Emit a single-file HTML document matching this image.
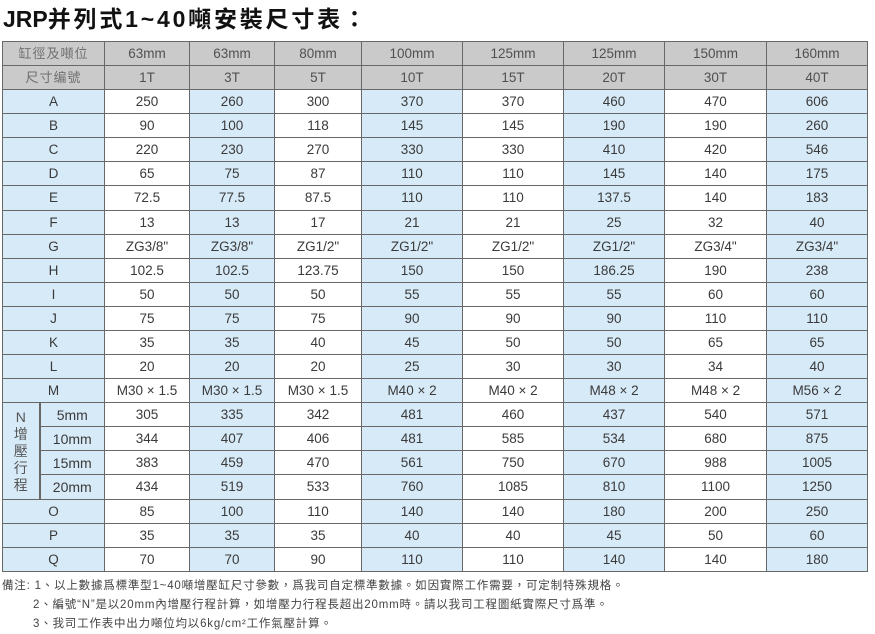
<!DOCTYPE html>
<html>
<head>
<meta charset="utf-8">
<style>
  html,body{margin:0;padding:0;background:#fff;}
  body{width:875px;height:633px;position:relative;overflow:hidden;
       font-family:"Liberation Sans","Noto Sans CJK TC","Noto Sans CJK SC",sans-serif;}
  .title{position:absolute;left:3px;top:5px;font-size:23px;font-weight:bold;color:#111;
         white-space:nowrap;line-height:28px;letter-spacing:2.8px;}
  .title .l{letter-spacing:0;}
  table{position:absolute;left:2px;top:41px;border-collapse:collapse;table-layout:fixed;width:865px;}
  td{border:1px solid #686868;padding:0;text-align:center;vertical-align:middle;
     font-size:13.5px;color:#3a3a3a;line-height:22px;height:23px;white-space:nowrap;overflow:hidden;}
  tr{height:24px;}
  tr.t td{height:24px;}
  tr.t{height:25px;}
  tr.h td{background:#cacaca;color:#505050;}
  tr.h td.f{color:#707070;letter-spacing:1px;font-size:13px;}
  td.f{background:#d7eaf8;}
  td.s{background:#d7eaf8;font-size:14px;}
  td.n{background:#d7eaf8;font-size:14px;line-height:17px;border-right:2px solid #686868;color:#555;}
  .notes{position:absolute;left:2px;top:577px;font-size:11.5px;color:#444;line-height:19px;
         letter-spacing:0.8px;white-space:nowrap;}
  .notes div{position:relative;}
  .notes .in{padding-left:31px;}
</style>
</head>
<body>
<div class="title"><span class="l">JRP</span>并列式1~40噸安裝尺寸表：</div>

<table>
<colgroup>
<col style="width:37px">
<col style="width:65px">
<col style="width:85px">
<col style="width:85px;background:#d7eaf8">
<col style="width:87px">
<col style="width:101px;background:#d7eaf8">
<col style="width:101px">
<col style="width:101px;background:#d7eaf8">
<col style="width:102px">
<col style="width:101px;background:#d7eaf8">
</colgroup>
<tr class="h"><td class="f" colspan="2">缸徑及噸位</td><td>63mm</td><td>63mm</td><td>80mm</td><td>100mm</td><td>125mm</td><td>125mm</td><td>150mm</td><td>160mm</td></tr>
<tr class="h"><td class="f" colspan="2">尺寸编號</td><td>1T</td><td>3T</td><td>5T</td><td>10T</td><td>15T</td><td>20T</td><td>30T</td><td>40T</td></tr>
<tr><td class="f" colspan="2">A</td><td>250</td><td>260</td><td>300</td><td>370</td><td>370</td><td>460</td><td>470</td><td>606</td></tr>
<tr><td class="f" colspan="2">B</td><td>90</td><td>100</td><td>118</td><td>145</td><td>145</td><td>190</td><td>190</td><td>260</td></tr>
<tr><td class="f" colspan="2">C</td><td>220</td><td>230</td><td>270</td><td>330</td><td>330</td><td>410</td><td>420</td><td>546</td></tr>
<tr><td class="f" colspan="2">D</td><td>65</td><td>75</td><td>87</td><td>110</td><td>110</td><td>145</td><td>140</td><td>175</td></tr>
<tr class="t"><td class="f" colspan="2">E</td><td>72.5</td><td>77.5</td><td>87.5</td><td>110</td><td>110</td><td>137.5</td><td>140</td><td>183</td></tr>
<tr><td class="f" colspan="2">F</td><td>13</td><td>13</td><td>17</td><td>21</td><td>21</td><td>25</td><td>32</td><td>40</td></tr>
<tr><td class="f" colspan="2">G</td><td>ZG3/8"</td><td>ZG3/8"</td><td>ZG1/2"</td><td>ZG1/2"</td><td>ZG1/2"</td><td>ZG1/2"</td><td>ZG3/4"</td><td>ZG3/4"</td></tr>
<tr><td class="f" colspan="2">H</td><td>102.5</td><td>102.5</td><td>123.75</td><td>150</td><td>150</td><td>186.25</td><td>190</td><td>238</td></tr>
<tr><td class="f" colspan="2">I</td><td>50</td><td>50</td><td>50</td><td>55</td><td>55</td><td>55</td><td>60</td><td>60</td></tr>
<tr><td class="f" colspan="2">J</td><td>75</td><td>75</td><td>75</td><td>90</td><td>90</td><td>90</td><td>110</td><td>110</td></tr>
<tr><td class="f" colspan="2">K</td><td>35</td><td>35</td><td>40</td><td>45</td><td>50</td><td>50</td><td>65</td><td>65</td></tr>
<tr><td class="f" colspan="2">L</td><td>20</td><td>20</td><td>20</td><td>25</td><td>30</td><td>30</td><td>34</td><td>40</td></tr>
<tr><td class="f" colspan="2">M</td><td>M30 × 1.5</td><td>M30 × 1.5</td><td>M30 × 1.5</td><td>M40 × 2</td><td>M40 × 2</td><td>M48 × 2</td><td>M48 × 2</td><td>M56 × 2</td></tr>
<tr><td class="n" rowspan="4">N<br>增<br>壓<br>行<br>程</td><td class="s">5mm</td><td>305</td><td>335</td><td>342</td><td>481</td><td>460</td><td>437</td><td>540</td><td>571</td></tr>
<tr><td class="s">10mm</td><td>344</td><td>407</td><td>406</td><td>481</td><td>585</td><td>534</td><td>680</td><td>875</td></tr>
<tr><td class="s">15mm</td><td>383</td><td>459</td><td>470</td><td>561</td><td>750</td><td>670</td><td>988</td><td>1005</td></tr>
<tr class="t"><td class="s">20mm</td><td>434</td><td>519</td><td>533</td><td>760</td><td>1085</td><td>810</td><td>1100</td><td>1250</td></tr>
<tr><td class="f" colspan="2">O</td><td>85</td><td>100</td><td>110</td><td>140</td><td>140</td><td>180</td><td>200</td><td>250</td></tr>
<tr><td class="f" colspan="2">P</td><td>35</td><td>35</td><td>35</td><td>40</td><td>40</td><td>45</td><td>50</td><td>60</td></tr>
<tr><td class="f" colspan="2">Q</td><td>70</td><td>70</td><td>90</td><td>110</td><td>110</td><td>140</td><td>140</td><td>180</td></tr>
</table>

<div class="notes">
  <div>備注: 1、以上數據爲標準型1~40噸增壓缸尺寸參數，爲我司自定標準數據。如因實際工作需要，可定制特殊規格。</div>
  <div class="in">2、編號“N”是以20mm內增壓行程計算，如增壓力行程長超出20mm時。請以我司工程圖紙實際尺寸爲準。</div>
  <div class="in">3、我司工作表中出力噸位均以6kg/cm²工作氣壓計算。</div>
</div>
</body>
</html>
